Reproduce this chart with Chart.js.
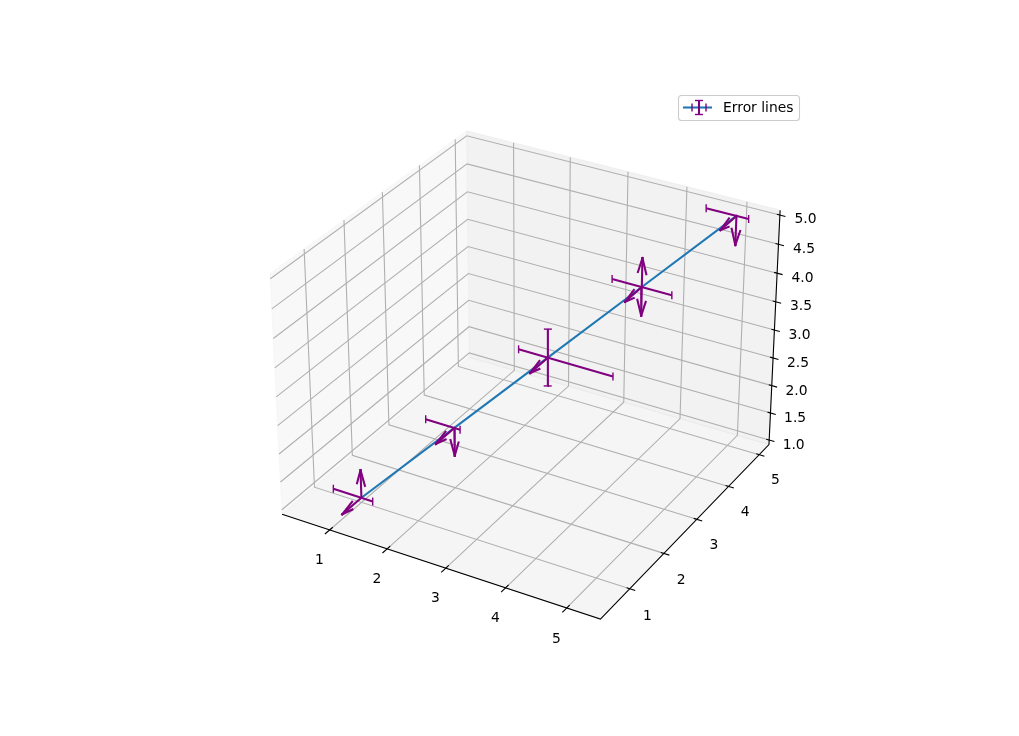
<!DOCTYPE html>
<html>
<head>
<meta charset="utf-8">
<title>Error lines</title>
<script src="https://cdn.jsdelivr.net/npm/chart.js@4"></script>
<style>
  html, body { margin: 0; padding: 0; background: #fff; }
  canvas { display: block; }
</style>
</head>
<body>
<canvas id="chart" width="1019" height="736"></canvas>
<script>
// data
const xs = [1, 2, 3, 4, 5];
const ys = [1, 2, 3, 4, 5];
const zs = [1, 2, 3, 4, 5];
const xErrLow = [0.5, 0.5, 0.5, 0.5, 0.5];
const xErrHigh = [0.2, 0.1, 1.1, 0.5, 0.2];
const yArrowLow = [0.5, 0.5, 0.5, 0.5, 0.5];
const zBarErr = [0, 0, 0.5, 0, 0];
const zArrowUp = [0.5, 0, 0, 0.5, 0];
const zArrowDown = [0, 0.5, 0, 0.5, 0.5];

const xTicks = [1, 2, 3, 4, 5];
const yTicks = [1, 2, 3, 4, 5];
const zTicks = [1, 1.5, 2, 2.5, 3, 3.5, 4, 4.5, 5];
const seriesLabel = 'Error lines';

// axis limits, panes stick out by 1/48 of the range on each side
const xLim = [0.265, 5.435];
const yLim = [0.275, 5.225];
const zLim = [1, 5];
const pad = lim => (lim[1] - lim[0]) / 48;
const xPane = [xLim[0] - pad(xLim), xLim[1] + pad(xLim)];
const yPane = [yLim[0] - pad(yLim), yLim[1] + pad(yLim)];
const zPane = [zLim[0] - pad(zLim), zLim[1] + pad(zLim)];

// camera: elev 30, azim -60, dist 10, box 4:4:3
const box = [1.19048, 1.19048, 0.89286];
const U = [0.8660, 0.5, 0];
const V = [-0.25, 0.4330, 0.8660];
const W = [0.4330, -0.75, 0.5];
const dot = (a, b) => a[0] * b[0] + a[1] * b[1] + a[2] * b[2];

function project(x, y, z) {
  const p = [
    ((x - xLim[0]) / (xLim[1] - xLim[0]) - 0.5) * box[0],
    ((y - yLim[0]) / (yLim[1] - yLim[0]) - 0.5) * box[1],
    ((z - zLim[0]) / (zLim[1] - zLim[0]) - 0.5) * box[2],
  ];
  const d = 10 - dot(W, p);
  return { x: 530.2 + 2940 * dot(U, p) / d, y: 362.8 - 2946 * dot(V, p) / d };
}

const datasets = [];

function addLine(pts, color, width, order, extra) {
  datasets.push({
    data: pts.map(p => project(p[0], p[1], p[2])),
    showLine: true, tension: 0, pointRadius: 0,
    borderColor: color, borderWidth: width, order,
    ...extra,
  });
}

function addPane(pts, color) {
  addLine([...pts, pts[0]], color, 1, 50, { fill: 'shape', backgroundColor: color });
}

// panes
addPane([[xPane[0], yPane[0], zPane[0]], [xPane[0], yPane[1], zPane[0]], [xPane[0], yPane[1], zPane[1]], [xPane[0], yPane[0], zPane[1]]], 'rgba(242,242,242,0.5)');
addPane([[xPane[0], yPane[1], zPane[0]], [xPane[1], yPane[1], zPane[0]], [xPane[1], yPane[1], zPane[1]], [xPane[0], yPane[1], zPane[1]]], 'rgba(230,230,230,0.5)');
addPane([[xPane[0], yPane[0], zPane[0]], [xPane[1], yPane[0], zPane[0]], [xPane[1], yPane[1], zPane[0]], [xPane[0], yPane[1], zPane[0]]], 'rgba(236,236,236,0.5)');

// grid
const gridColor = '#b0b0b0';
xTicks.forEach(x => addLine([[x, yPane[0], zPane[0]], [x, yPane[1], zPane[0]], [x, yPane[1], zPane[1]]], gridColor, 1.1, 40));
yTicks.forEach(y => addLine([[xPane[1], y, zPane[0]], [xPane[0], y, zPane[0]], [xPane[0], y, zPane[1]]], gridColor, 1.1, 40));
zTicks.forEach(z => addLine([[xPane[0], yPane[0], z], [xPane[0], yPane[1], z], [xPane[1], yPane[1], z]], gridColor, 1.1, 40));

// axis lines and tick marks
addLine([[xPane[0], yPane[0], zPane[0]], [xPane[1], yPane[0], zPane[0]], [xPane[1], yPane[1], zPane[0]], [xPane[1], yPane[1], zPane[1]]], '#000', 1.1, 30);
xTicks.forEach(x => addLine([[x, yPane[0] - 0.12, zPane[0]], [x, yPane[0] + 0.08, zPane[0]]], '#000', 1.1, 30));
yTicks.forEach(y => addLine([[xPane[1] - 0.05, y, zPane[0]], [xPane[1] + 0.09, y, zPane[0]]], '#000', 1.1, 30));
zTicks.forEach(z => addLine([[xPane[1] - 0.05, yPane[1], z], [xPane[1] + 0.09, yPane[1], z]], '#000', 1.1, 30));

// series line
const blue = '#1f77b4';
const purple = 'purple';
addLine(xs.map((x, i) => [x, ys[i], zs[i]]), blue, 2.08, 20);

// arrow: shaft plus two barbs turned 15 degrees from the shaft, in data units
const headLen = 0.27;
const headAlong = headLen * Math.cos(15 * Math.PI / 180);
const headSide = headLen * Math.sin(15 * Math.PI / 180);

function addArrow(from, to, dir, side) {
  const square = { borderCapStyle: 'square' };
  addLine([from, to], purple, 2.08, 10, square);
  const barb = s => [
    to[0] - dir[0] * headAlong + s * side[0] * headSide,
    to[1] - dir[1] * headAlong + s * side[1] * headSide,
    to[2] - dir[2] * headAlong + s * side[2] * headSide,
  ];
  addLine([barb(1), to], purple, 2.08, 10, square);
  addLine([barb(-1), to], purple, 2.08, 10, square);
}

const xCapPoints = [];
const zCapPoints = [];
xs.forEach((x, i) => {
  const y = ys[i], z = zs[i];
  const lo = x - xErrLow[i], hi = x + xErrHigh[i];
  addLine([[lo, y, z], [hi, y, z]], purple, 2.08, 10);
  xCapPoints.push(project(lo, y, z), project(hi, y, z));
  if (zBarErr[i]) {
    addLine([[x, y, z - zBarErr[i]], [x, y, z + zBarErr[i]]], purple, 2.08, 10);
    zCapPoints.push(project(x, y, z - zBarErr[i]), project(x, y, z + zBarErr[i]));
  }
  if (zArrowUp[i]) addArrow([x, y, z], [x, y, z + zArrowUp[i]], [0, 0, 1], [1, 0, 0]);
  if (zArrowDown[i]) addArrow([x, y, z], [x, y, z - zArrowDown[i]], [0, 0, -1], [1, 0, 0]);
  addArrow([x, y, z], [x, y - yArrowLow[i], z], [0, -1, 0], [0, 0, 1]);
});

datasets.push({ data: xCapPoints, pointStyle: 'line', pointRotation: 90, pointRadius: 4, pointBorderColor: purple, pointBorderWidth: 1.4, order: 5 });
datasets.push({ data: zCapPoints, pointStyle: 'line', pointRotation: 0, pointRadius: 4, pointBorderColor: purple, pointBorderWidth: 1.4, order: 5 });

// tick labels, sat next to the axes in data space
const font = '13.89px "DejaVu Sans"';
const tickLabels = [
  ...xTicks.map(v => ({ text: String(v), pos: project(v, yPane[0] - 0.28, zPane[0] - 0.37) })),
  ...yTicks.map(v => ({ text: String(v), pos: project(xPane[1] + 0.295, v, zPane[0] - 0.38) })),
  ...zTicks.map(v => ({ text: v.toFixed(1), pos: project(xPane[1] + 0.415, yPane[1], v + 0.03) })),
];

const textAndLegend = {
  id: 'textAndLegend',
  afterDraw(chart) {
    const ctx = chart.ctx;
    const sx = chart.scales.x, sy = chart.scales.y;
    ctx.save();
    ctx.font = font;
    ctx.fillStyle = '#000';
    ctx.textAlign = 'center';
    ctx.textBaseline = 'middle';
    tickLabels.forEach(t => ctx.fillText(t.text, sx.getPixelForValue(t.pos.x), sy.getPixelForValue(t.pos.y)));

    // legend box
    ctx.beginPath();
    ctx.roundRect(678.5, 95.5, 121, 25, 3);
    ctx.fillStyle = 'rgba(255,255,255,0.8)';
    ctx.fill();
    ctx.strokeStyle = '#ccc';
    ctx.lineWidth = 1.1;
    ctx.stroke();

    // legend handle
    const seg = (x0, y0, x1, y1, color, w) => {
      ctx.beginPath();
      ctx.moveTo(x0, y0);
      ctx.lineTo(x1, y1);
      ctx.strokeStyle = color;
      ctx.lineWidth = w;
      ctx.stroke();
    };
    seg(683, 107.5, 712, 107.5, blue, 2.08);
    seg(699, 100.5, 699, 114.5, purple, 2.08);
    seg(695, 100.5, 703, 100.5, purple, 1.4);
    seg(695, 114.5, 703, 114.5, purple, 1.4);
    seg(692, 103.5, 692, 111.5, purple, 1.4);
    seg(706, 103.5, 706, 111.5, purple, 1.4);

    ctx.fillStyle = '#000';
    ctx.textAlign = 'left';
    ctx.fillText(seriesLabel, 723, 108);
    ctx.restore();
  },
};

new Chart(document.getElementById('chart'), {
  type: 'scatter',
  data: { datasets },
  options: {
    responsive: false,
    animation: false,
    events: [],
    layout: { padding: 0, autoPadding: false },
    plugins: { legend: { display: false }, tooltip: { enabled: false } },
    scales: {
      x: { type: 'linear', min: 0, max: 1019, bounds: 'data', display: false },
      y: { type: 'linear', min: 0, max: 736, bounds: 'data', reverse: true, display: false },
    },
  },
  plugins: [textAndLegend],
});
</script>
</body>
</html>
